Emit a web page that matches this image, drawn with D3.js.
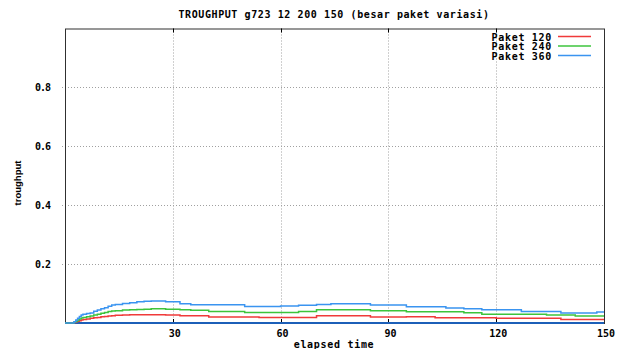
<!DOCTYPE html>
<html>
<head>
<meta charset="utf-8">
<script src="https://cdn.jsdelivr.net/npm/d3@7"></script>
<style>
  body { margin: 0; background: #fff; }
  text { fill: #000; }
</style>
</head>
<body>
<div id="chart"></div>
<script>
(function() {

  // elapsed time grid (s)
  const times = [0, 2, 2.5, 3, 3.5, 4, 4.5, 5, 6, 7, 8, 9, 10, 11, 12, 13, 14, 16, 18, 20, 22, 24,
    28, 32, 35, 40, 45, 50, 54, 60, 65, 70, 74, 80, 85, 90, 95, 100, 103, 106, 111, 116, 120,
    127, 134, 138, 142, 148, 150];
  const paket120 = [0, 0, 0.002, 0.004, 0.006, 0.008, 0.010, 0.012, 0.014, 0.016, 0.018, 0.019,
    0.021, 0.022, 0.024, 0.025, 0.026, 0.027, 0.028, 0.028, 0.028, 0.028,
    0.027, 0.025, 0.025, 0.020, 0.020, 0.020, 0.019, 0.019, 0.019, 0.025, 0.025, 0.025, 0.020,
    0.020, 0.021, 0.021, 0.018, 0.018, 0.018, 0.018, 0.016, 0.016, 0.016, 0.012, 0.012, 0.012, 0.012];
  const paket240 = [0, 0, 0.003, 0.006, 0.010, 0.014, 0.017, 0.019, 0.021, 0.024, 0.027, 0.030,
    0.033, 0.036, 0.039, 0.041, 0.042, 0.044, 0.045, 0.046, 0.047, 0.048,
    0.047, 0.045, 0.043, 0.039, 0.039, 0.036, 0.036, 0.036, 0.039, 0.045, 0.045, 0.045, 0.042,
    0.042, 0.038, 0.038, 0.038, 0.038, 0.035, 0.030, 0.030, 0.030, 0.027, 0.027, 0.024, 0.024, 0.024];
  const paket360 = [0, 0, 0.004, 0.010, 0.016, 0.022, 0.027, 0.030, 0.032, 0.034, 0.040, 0.044,
    0.048, 0.052, 0.057, 0.061, 0.063, 0.066, 0.069, 0.072, 0.074, 0.075,
    0.072, 0.065, 0.062, 0.062, 0.062, 0.056, 0.056, 0.058, 0.060, 0.063, 0.065, 0.065, 0.061,
    0.061, 0.055, 0.055, 0.055, 0.051, 0.048, 0.045, 0.045, 0.039, 0.039, 0.034, 0.034, 0.037, 0.037];
  // flat series lying on the x axis
  const baseTimes = [0, 150];
  const baseValues = [0, 0];

  const seriesNames = ['Paket 120', 'Paket 240', 'Paket 360'];
  const seriesColors = ['#f03a3a', '#3cc43c', '#3a94f0'];
  const xTicks = [30, 60, 90, 120, 150];
  const yTicks = [0.2, 0.4, 0.6, 0.8];

  const size = { x: 618, y: 349 };
  const plot = { left: 65, right: 604, top: 28.5, bottom: 323 };
  const monoFont = '"DejaVu Sans Mono", monospace';

  const svg = d3.select('#chart')
    .append('svg')
    .attr('width', size.x)
    .attr('height', size.y);

  const xScale = d3.scaleLinear()
    .domain([0, 150])
    .range([plot.left, plot.right]);

  const yScale = d3.scaleLinear()
    .domain([0, 1])
    .range([plot.bottom, plot.top]);

  // grid
  svg.append('g')
    .selectAll('line')
    .data(xTicks.filter(d => d < 150))
    .enter()
    .append('line')
      .attr('x1', d => Math.round(xScale(d)) + 0.5)
      .attr('x2', d => Math.round(xScale(d)) + 0.5)
      .attr('y1', plot.top)
      .attr('y2', plot.bottom)
      .attr('stroke', '#a0a0a0')
      .attr('stroke-dasharray', '1,2');

  svg.append('g')
    .selectAll('line')
    .data(yTicks)
    .enter()
    .append('line')
      .attr('x1', plot.left - 3)
      .attr('x2', plot.right)
      .attr('y1', d => Math.round(yScale(d)) + 0.5)
      .attr('y2', d => Math.round(yScale(d)) + 0.5)
      .attr('stroke', '#a0a0a0')
      .attr('stroke-dasharray', '1,2');

  // border
  svg.append('rect')
    .attr('x', plot.left + 0.5)
    .attr('y', plot.top + 0.5)
    .attr('width', plot.right - plot.left)
    .attr('height', plot.bottom - plot.top)
    .attr('fill', 'none')
    .attr('stroke', '#303030');

  // tick marks (inward)
  xTicks.filter(d => d < 150).forEach(d => {
    const x = Math.round(xScale(d)) + 0.5;
    svg.append('line').attr('x1', x).attr('x2', x)
      .attr('y1', plot.bottom).attr('y2', plot.bottom - 4).attr('stroke', '#000');
    svg.append('line').attr('x1', x).attr('x2', x)
      .attr('y1', plot.top).attr('y2', plot.top + 4).attr('stroke', '#000');
  });

  // tick labels
  svg.append('g')
    .selectAll('text')
    .data(xTicks)
    .enter()
    .append('text')
      .text(d => d)
      .attr('x', d => xScale(d) + 2)
      .attr('y', 337)
      .attr('text-anchor', 'middle')
      .attr('font-family', monoFont)
      .attr('font-weight', 'bold')
      .attr('font-size', 10);

  svg.append('g')
    .selectAll('text')
    .data(yTicks)
    .enter()
    .append('text')
      .text(d => d.toFixed(1))
      .attr('x', 50)
      .attr('y', d => yScale(d) + 3.5)
      .attr('text-anchor', 'end')
      .attr('font-family', monoFont)
      .attr('font-weight', 'bold')
      .attr('font-size', 10)
      .attr('letter-spacing', -1);

  // lines
  const valueLine = d3.line()
    .x(d => xScale(d[0]))
    .y(d => yScale(d[1]))
    .curve(d3.curveStepAfter);

  svg.append('path')
    .datum(d3.zip(baseTimes, baseValues))
    .attr('d', valueLine)
    .attr('fill', 'none')
    .attr('stroke', '#1c5fb8')
    .attr('stroke-width', 2);

  [paket120, paket240, paket360].forEach((vals, i) => {
    svg.append('path')
      .datum(d3.zip(times, vals))
      .attr('d', valueLine)
      .attr('fill', 'none')
      .attr('stroke', seriesColors[i])
      .attr('stroke-width', 1.5);
  });

  // legend
  seriesNames.forEach((name, i) => {
    const y = 37 + i * 9.5;
    svg.append('text')
      .text(name)
      .attr('x', 552)
      .attr('y', y + 3.5)
      .attr('text-anchor', 'end')
      .attr('font-family', monoFont)
      .attr('font-weight', 'bold')
      .attr('font-size', 10)
      .attr('letter-spacing', 0.7);
    svg.append('line')
      .attr('x1', 558)
      .attr('x2', 591)
      .attr('y1', y - 0.5)
      .attr('y2', y - 0.5)
      .attr('stroke', seriesColors[i])
      .attr('stroke-width', 1.3);
  });

  // titles
  svg.append('text')
    .text('TROUGHPUT g723 12 200 150 (besar paket variasi)')
    .attr('x', 334)
    .attr('y', 18)
    .attr('text-anchor', 'middle')
    .attr('font-family', monoFont)
    .attr('font-weight', 'bold')
    .attr('font-size', 10)
    .attr('letter-spacing', 0.6);

  svg.append('text')
    .text('elapsed time')
    .attr('x', 334)
    .attr('y', 348)
    .attr('text-anchor', 'middle')
    .attr('font-family', monoFont)
    .attr('font-weight', 'bold')
    .attr('font-size', 10)
    .attr('letter-spacing', 0.7);

  svg.append('text')
    .text('troughput')
    .attr('transform', 'translate(21, 183) rotate(-90)')
    .attr('text-anchor', 'middle')
    .attr('font-family', '"Liberation Sans", sans-serif')
    .attr('font-weight', 'bold')
    .attr('font-size', 9.5);
}());
</script>
</body>
</html>
